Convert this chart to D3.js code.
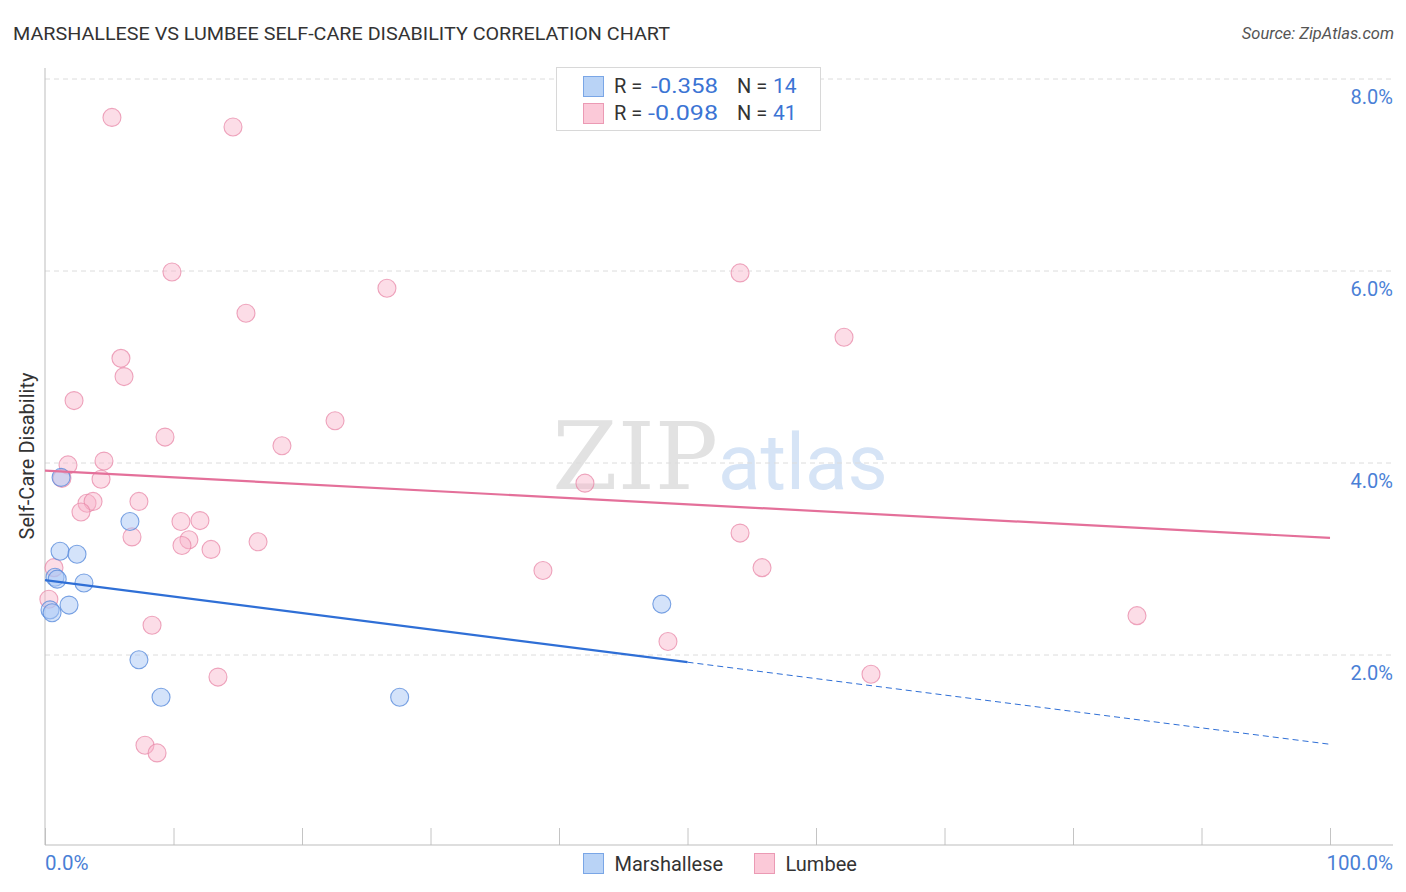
<!DOCTYPE html>
<html>
<head>
<meta charset="utf-8">
<script src="https://cdn.jsdelivr.net/npm/d3@7"></script>
<style>
  body { margin: 0; background: #fff; }
  svg { font-family: Roboto, "Noto Sans", sans-serif; }
</style>
</head>
<body>
<svg id="chart" width="1406" height="892"></svg>
<script>
// Marshallese points: x = share (%), y = self-care disability (%)
const marshalleseX = [1.25, 1.17, 2.49, 6.61, 0.78, 0.95, 3.03, 1.87, 0.39, 0.55, 7.31, 9.03, 27.6, 48.0];
const marshalleseY = [3.85, 3.08, 3.05, 3.39, 2.81, 2.79, 2.75, 2.52, 2.47, 2.44, 1.95, 1.56, 1.56, 2.53];

// Lumbee points
const lumbeeX = [5.21, 14.63, 9.88, 54.09, 26.61, 15.64, 62.18, 5.91, 6.15, 2.26, 22.57, 9.34, 18.44, 1.79,
  4.59, 42.02, 1.32, 4.36, 3.27, 3.74, 2.80, 7.31, 10.58, 12.06, 6.77, 11.2, 10.66, 12.92, 16.58, 54.09,
  38.75, 55.8, 0.70, 0.30, 84.98, 8.33, 48.48, 64.28, 13.46, 7.78, 8.72];
const lumbeeY = [7.60, 7.50, 5.99, 5.98, 5.82, 5.56, 5.31, 5.09, 4.90, 4.65, 4.44, 4.27, 4.18, 3.98,
  4.02, 3.79, 3.84, 3.83, 3.58, 3.60, 3.49, 3.60, 3.39, 3.40, 3.23, 3.20, 3.14, 3.10, 3.18, 3.27,
  2.88, 2.91, 2.91, 2.58, 2.41, 2.31, 2.14, 1.80, 1.77, 1.06, 0.98];

// trend lines (values at x = 0 and x = 100)
const marshalleseTrend = [2.78, 1.07];
const lumbeeTrend = [3.92, 3.22];

const yTicks = [2, 4, 6, 8];
const xTicks = d3.range(0, 101, 10);

const legendRows = [
  { r: '-0.358', n: '14', fill: '#b9d3f6', stroke: '#7aa6e6' },
  { r: '-0.098', n: '41', fill: '#fbc9d8', stroke: '#eb9ab4' }
];
const seriesNames = ['Marshallese', 'Lumbee'];

const svg = d3.select('#chart');
const plotLeft = 45, plotRight = 1330, plotTop = 68, plotBottom = 845;

const x = d3.scaleLinear().domain([0, 100]).range([plotLeft, plotRight]);
const y = d3.scaleLinear().domain([0, 8]).range([847, 79]);

// title
svg.append('text')
  .attr('x', 13).attr('y', 40)
  .attr('font-size', 19).attr('fill', '#333')
  .attr('textLength', 657).attr('lengthAdjust', 'spacingAndGlyphs')
  .text('MARSHALLESE VS LUMBEE SELF-CARE DISABILITY CORRELATION CHART');

svg.append('text')
  .attr('x', 1394).attr('y', 39)
  .attr('text-anchor', 'end')
  .attr('font-size', 16.5).attr('font-style', 'italic').attr('fill', '#555')
  .text('Source: ZipAtlas.com');

// watermark
const wm = svg.append('text')
  .attr('x', 720).attr('y', 489)
  .attr('text-anchor', 'middle');
wm.append('tspan')
  .attr('font-family', '"DejaVu Serif", "Liberation Serif", serif')
  .attr('font-size', 94).attr('fill', '#e2e2e2')
  .text('ZIP');
wm.append('tspan')
  .attr('font-size', 78).attr('fill', '#d6e4f6')
  .text('atlas');

// grid
svg.append('g')
  .selectAll('line')
  .data(yTicks)
  .join('line')
  .attr('x1', plotLeft).attr('x2', 1393)
  .attr('y1', d => y(d)).attr('y2', d => y(d))
  .attr('stroke', '#dcdcdc').attr('stroke-dasharray', '5,4');

svg.append('g')
  .selectAll('text')
  .data(yTicks)
  .join('text')
  .attr('x', 1393).attr('y', d => y(d) + 25)
  .attr('text-anchor', 'end')
  .attr('font-size', 20).attr('fill', '#4a7fd6')
  .text(d => d.toFixed(1) + '%');

// axes
const xAxis = d3.axisBottom(x).tickValues(xTicks).tickSize(-17).tickFormat('');
const gx = svg.append('g').attr('transform', `translate(0,${plotBottom})`).call(xAxis);
gx.select('.domain').remove();
gx.selectAll('.tick line').attr('stroke', '#c4c4c4');
svg.append('line')
  .attr('x1', plotLeft).attr('x2', 1393).attr('y1', plotBottom).attr('y2', plotBottom)
  .attr('stroke', '#bdbdbd');
svg.append('line')
  .attr('x1', plotLeft).attr('x2', plotLeft).attr('y1', plotTop).attr('y2', plotBottom)
  .attr('stroke', '#bdbdbd');

svg.append('text')
  .attr('x', plotLeft).attr('y', 870)
  .attr('font-size', 20.5).attr('fill', '#4a7fd6')
  .text('0.0%');
svg.append('text')
  .attr('x', 1393).attr('y', 870)
  .attr('text-anchor', 'end')
  .attr('font-size', 20.5).attr('fill', '#4a7fd6')
  .text('100.0%');

svg.append('text')
  .attr('transform', 'translate(34,456) rotate(-90)')
  .attr('text-anchor', 'middle')
  .attr('font-size', 20).attr('fill', '#333')
  .text('Self-Care Disability');

// points
const marsh = marshalleseX.map((v, i) => [v, marshalleseY[i]]);
const lumb = lumbeeX.map((v, i) => [v, lumbeeY[i]]);

svg.append('g')
  .selectAll('circle')
  .data(lumb)
  .join('circle')
  .attr('cx', d => x(d[0])).attr('cy', d => y(d[1])).attr('r', 9)
  .attr('fill', 'rgba(248,180,202,0.45)')
  .attr('stroke', 'rgba(232,136,168,0.75)').attr('stroke-width', 1.1);

svg.append('g')
  .selectAll('circle')
  .data(marsh)
  .join('circle')
  .attr('cx', d => x(d[0])).attr('cy', d => y(d[1])).attr('r', 9)
  .attr('fill', 'rgba(170,200,245,0.5)')
  .attr('stroke', 'rgba(90,140,220,0.8)').attr('stroke-width', 1.1);

// trend lines
const trendAt = (t, v) => t[0] + (t[1] - t[0]) * v / 100;
svg.append('line')
  .attr('x1', x(0)).attr('y1', y(trendAt(lumbeeTrend, 0)))
  .attr('x2', x(100)).attr('y2', y(trendAt(lumbeeTrend, 100)))
  .attr('stroke', '#e4709a').attr('stroke-width', 2.2);

svg.append('line')
  .attr('x1', x(0)).attr('y1', y(trendAt(marshalleseTrend, 0)))
  .attr('x2', x(50)).attr('y2', y(trendAt(marshalleseTrend, 50)))
  .attr('stroke', '#2f6fd6').attr('stroke-width', 2.2);
svg.append('line')
  .attr('x1', x(50)).attr('y1', y(trendAt(marshalleseTrend, 50)))
  .attr('x2', x(100)).attr('y2', y(trendAt(marshalleseTrend, 100)))
  .attr('stroke', '#2f6fd6').attr('stroke-width', 1).attr('stroke-dasharray', '6,4');

// top legend
const lg = svg.append('g');
lg.append('rect')
  .attr('x', 556.5).attr('y', 67.5).attr('width', 264).attr('height', 63)
  .attr('fill', '#fff').attr('stroke', '#d8d8d8');
legendRows.forEach((row, i) => {
  const cy = 86 + i * 27;
  lg.append('rect')
    .attr('x', 583.5).attr('y', cy - 9.5).attr('width', 20).attr('height', 20)
    .attr('fill', row.fill).attr('stroke', row.stroke);
  lg.append('text').attr('x', 614).attr('y', cy + 7).attr('font-size', 20)
    .attr('fill', '#333').text('R =');
  lg.append('text').attr('x', i === 0 ? 651 : 648).attr('y', cy + 7).attr('font-size', 21)
    .attr('fill', '#3b74d4')
    .attr('textLength', i === 0 ? 67 : 70).attr('lengthAdjust', 'spacingAndGlyphs')
    .text(row.r);
  lg.append('text').attr('x', 737).attr('y', cy + 7).attr('font-size', 20)
    .attr('fill', '#333').text('N =');
  lg.append('text').attr('x', 773).attr('y', cy + 7).attr('font-size', 21)
    .attr('fill', '#3b74d4').text(row.n);
});

// bottom legend
const bl = svg.append('g');
const blX = [583.5, 754.5];
seriesNames.forEach((name, i) => {
  bl.append('rect')
    .attr('x', blX[i]).attr('y', 853.5).attr('width', 20).attr('height', 20)
    .attr('fill', legendRows[i].fill).attr('stroke', legendRows[i].stroke);
  bl.append('text')
    .attr('x', blX[i] + 31).attr('y', 871)
    .attr('font-size', 20).attr('fill', '#333')
    .text(name);
});
</script>
</body>
</html>
